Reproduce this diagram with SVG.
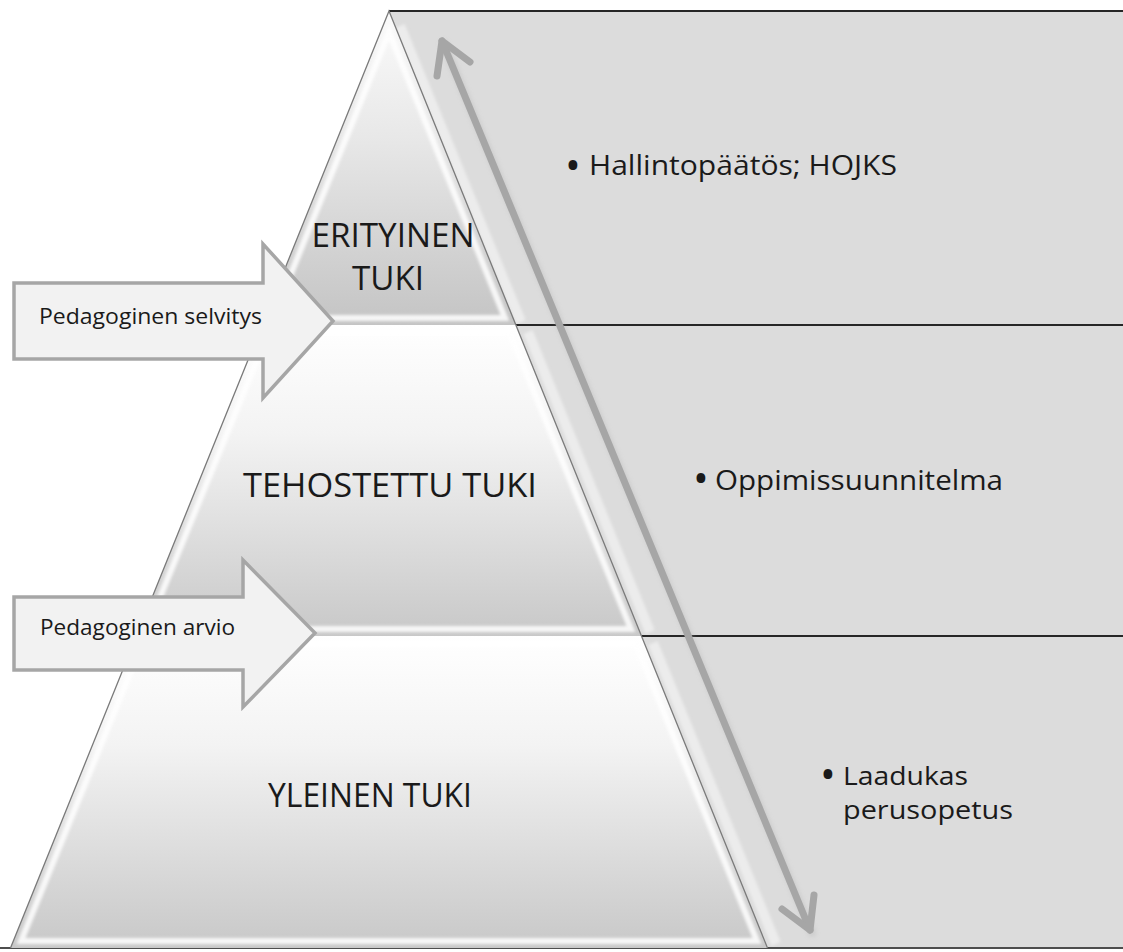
<svg xmlns="http://www.w3.org/2000/svg" width="1123" height="952" viewBox="0 0 1123 952">
  <style>
    .lbl { font-family: "Open Sans", "Liberation Sans", sans-serif; fill: #1a1a1a; }
    .big { font-size: 33px; }
    .side { font-size: 28px; }
    .side2 { font-size: 25px; }
    .bul { font-size: 42px; }
    .arrtxt { font-size: 22px; }
    .panel { fill: #dcdcdc; }
    .sep { stroke: #262626; stroke-width: 2; fill: none; }
    .tier { stroke: none; }
    .bevel { fill: none; stroke: #ffffff; stroke-width: 6; opacity: 0.85; filter: url(#soft); }
    .blk { fill: #f2f2f2; stroke: #a6a6a6; stroke-width: 3.5; stroke-linejoin: miter; }
    .dbl { fill: none; stroke: #a6a6a6; stroke-width: 7; stroke-linecap: round; stroke-linejoin: round; }
  </style>
  <defs>
    <linearGradient id="tierGrad" x1="0" y1="0" x2="0" y2="1">
      <stop offset="0" stop-color="#ffffff"/>
      <stop offset="0.35" stop-color="#f3f3f3"/>
      <stop offset="1" stop-color="#c8c8c8"/>
    </linearGradient>
    <linearGradient id="topGrad" x1="0" y1="0" x2="0" y2="1">
      <stop offset="0" stop-color="#fbfbfb"/>
      <stop offset="0.4" stop-color="#e8e8e8"/>
      <stop offset="1" stop-color="#c4c4c4"/>
    </linearGradient>
    <filter id="soft" x="-10%" y="-10%" width="120%" height="120%">
      <feGaussianBlur stdDeviation="1.8"/>
    </filter>
    <filter id="shadow" x="-10%" y="-10%" width="120%" height="120%">
      <feGaussianBlur stdDeviation="2.5"/>
    </filter>
  </defs>

  <rect x="0" y="0" width="1123" height="952" fill="#ffffff"/>

  <!-- right panels -->
  <g id="panel-top">
    <polygon class="panel" points="389,11 1123,11 1123,325 516,325"/>
    <line x1="400" y1="26" x2="521" y2="322" stroke="#ececec" stroke-width="10" filter="url(#soft)"/>
    <line x1="1116" y1="20" x2="1116" y2="320" stroke="#e6e6e6" stroke-width="4" filter="url(#soft)"/>
    <text class="lbl bul" x="573" y="180" text-anchor="middle">•</text>
    <text class="lbl side" x="589" y="175" textLength="308" lengthAdjust="spacingAndGlyphs">Hallintopäätös; HOJKS</text>
  </g>
  <g id="panel-middle">
    <polygon class="panel" points="516,325 1123,325 1123,636 641.5,636"/>
    <line x1="528" y1="332" x2="650" y2="632" stroke="#ececec" stroke-width="10" filter="url(#soft)"/>
    <line x1="1116" y1="332" x2="1116" y2="630" stroke="#e6e6e6" stroke-width="4" filter="url(#soft)"/>
    <text class="lbl bul" x="701" y="493" text-anchor="middle">•</text>
    <text class="lbl side" x="715" y="490" textLength="288" lengthAdjust="spacingAndGlyphs">Oppimissuunnitelma</text>
  </g>
  <g id="panel-bottom">
    <polygon class="panel" points="641.5,636 1123,636 1123,948 767.5,948"/>
    <line x1="653" y1="643" x2="776" y2="944" stroke="#ececec" stroke-width="10" filter="url(#soft)"/>
    <line x1="1116" y1="643" x2="1116" y2="942" stroke="#e6e6e6" stroke-width="4" filter="url(#soft)"/>
    <text class="lbl bul" x="828" y="789" text-anchor="middle">•</text>
    <text class="lbl side2" x="843" y="785" textLength="125" lengthAdjust="spacingAndGlyphs">Laadukas</text>
    <text class="lbl side2" x="843" y="819" textLength="170" lengthAdjust="spacingAndGlyphs">perusopetus</text>
  </g>

  <!-- panel border lines -->
  <g id="panel-lines">
    <line class="sep" x1="389" y1="11" x2="1123" y2="11"/>
    <line class="sep" x1="516" y1="325" x2="1123" y2="325"/>
    <line class="sep" x1="641.5" y1="636" x2="1123" y2="636"/>
    <line x1="0" y1="948" x2="1123" y2="948" stroke="#4d4d4d" stroke-width="2"/>
  </g>

  <!-- pyramid tiers -->
  <g id="tier-top">
    <polygon class="tier" fill="url(#topGrad)" points="389,11 516,325 262,325"/>
    <polygon class="bevel" points="389,32 505,318 273,318"/>
    <text class="lbl big" x="393" y="247" text-anchor="middle" textLength="163" lengthAdjust="spacingAndGlyphs">ERITYINEN</text>
    <text class="lbl big" x="388" y="290" text-anchor="middle" textLength="72" lengthAdjust="spacingAndGlyphs">TUKI</text>
  </g>
  <g id="tier-middle">
    <polygon class="tier" fill="url(#tierGrad)" points="262,325 516,325 641.5,636 136.5,636"/>
    <polygon class="bevel" points="268,333 510,333 631,629 147,629"/>
    <text class="lbl big" x="390" y="497" text-anchor="middle" textLength="294" lengthAdjust="spacingAndGlyphs">TEHOSTETTU TUKI</text>
  </g>
  <g id="tier-bottom">
    <polygon class="tier" fill="url(#tierGrad)" points="136.5,636 641.5,636 767.5,948 10.5,948"/>
    <polygon class="bevel" points="142,644 636,644 757,941 21,941"/>
    <text class="lbl big" x="370" y="807" text-anchor="middle" textLength="204" lengthAdjust="spacingAndGlyphs">YLEINEN TUKI</text>
  </g>
  <g id="pyramid-outline">
    <line x1="262" y1="325" x2="516" y2="325" stroke="#a8a8a8" stroke-width="2" filter="url(#soft)"/>
    <line x1="136.5" y1="636" x2="641.5" y2="636" stroke="#a8a8a8" stroke-width="2" filter="url(#soft)"/>
    <polyline points="10.5,948 389,11 767.5,948" fill="none" stroke="#7a7a7a" stroke-width="1.3"/>
  </g>

  <!-- block arrows -->
  <g id="arrow-selvitys">
    <polygon class="blk" points="14,283 263,283 263,244 333,321 263,398 263,359 14,359"/>
    <text class="lbl arrtxt" x="39" y="324" textLength="223" lengthAdjust="spacingAndGlyphs">Pedagoginen selvitys</text>
  </g>
  <g id="arrow-arvio">
    <polygon class="blk" points="14,597 243,597 243,560 315,633 243,707 243,670 14,670"/>
    <text class="lbl arrtxt" x="40" y="635" textLength="195" lengthAdjust="spacingAndGlyphs">Pedagoginen arvio</text>
  </g>

  <!-- connectors -->
  <g id="connectors">
    <g opacity="0.35" filter="url(#shadow)" transform="translate(2,3)">
      <line class="dbl" x1="442" y1="41" x2="810" y2="930" stroke="#8a8a8a"/>
    </g>
    <line class="dbl" x1="442" y1="41" x2="810" y2="930"/>
    <polyline class="dbl" points="437,76 442,41 470,62"/>
    <polyline class="dbl" points="782,909 810,930 814,895"/>
  </g>
</svg>
